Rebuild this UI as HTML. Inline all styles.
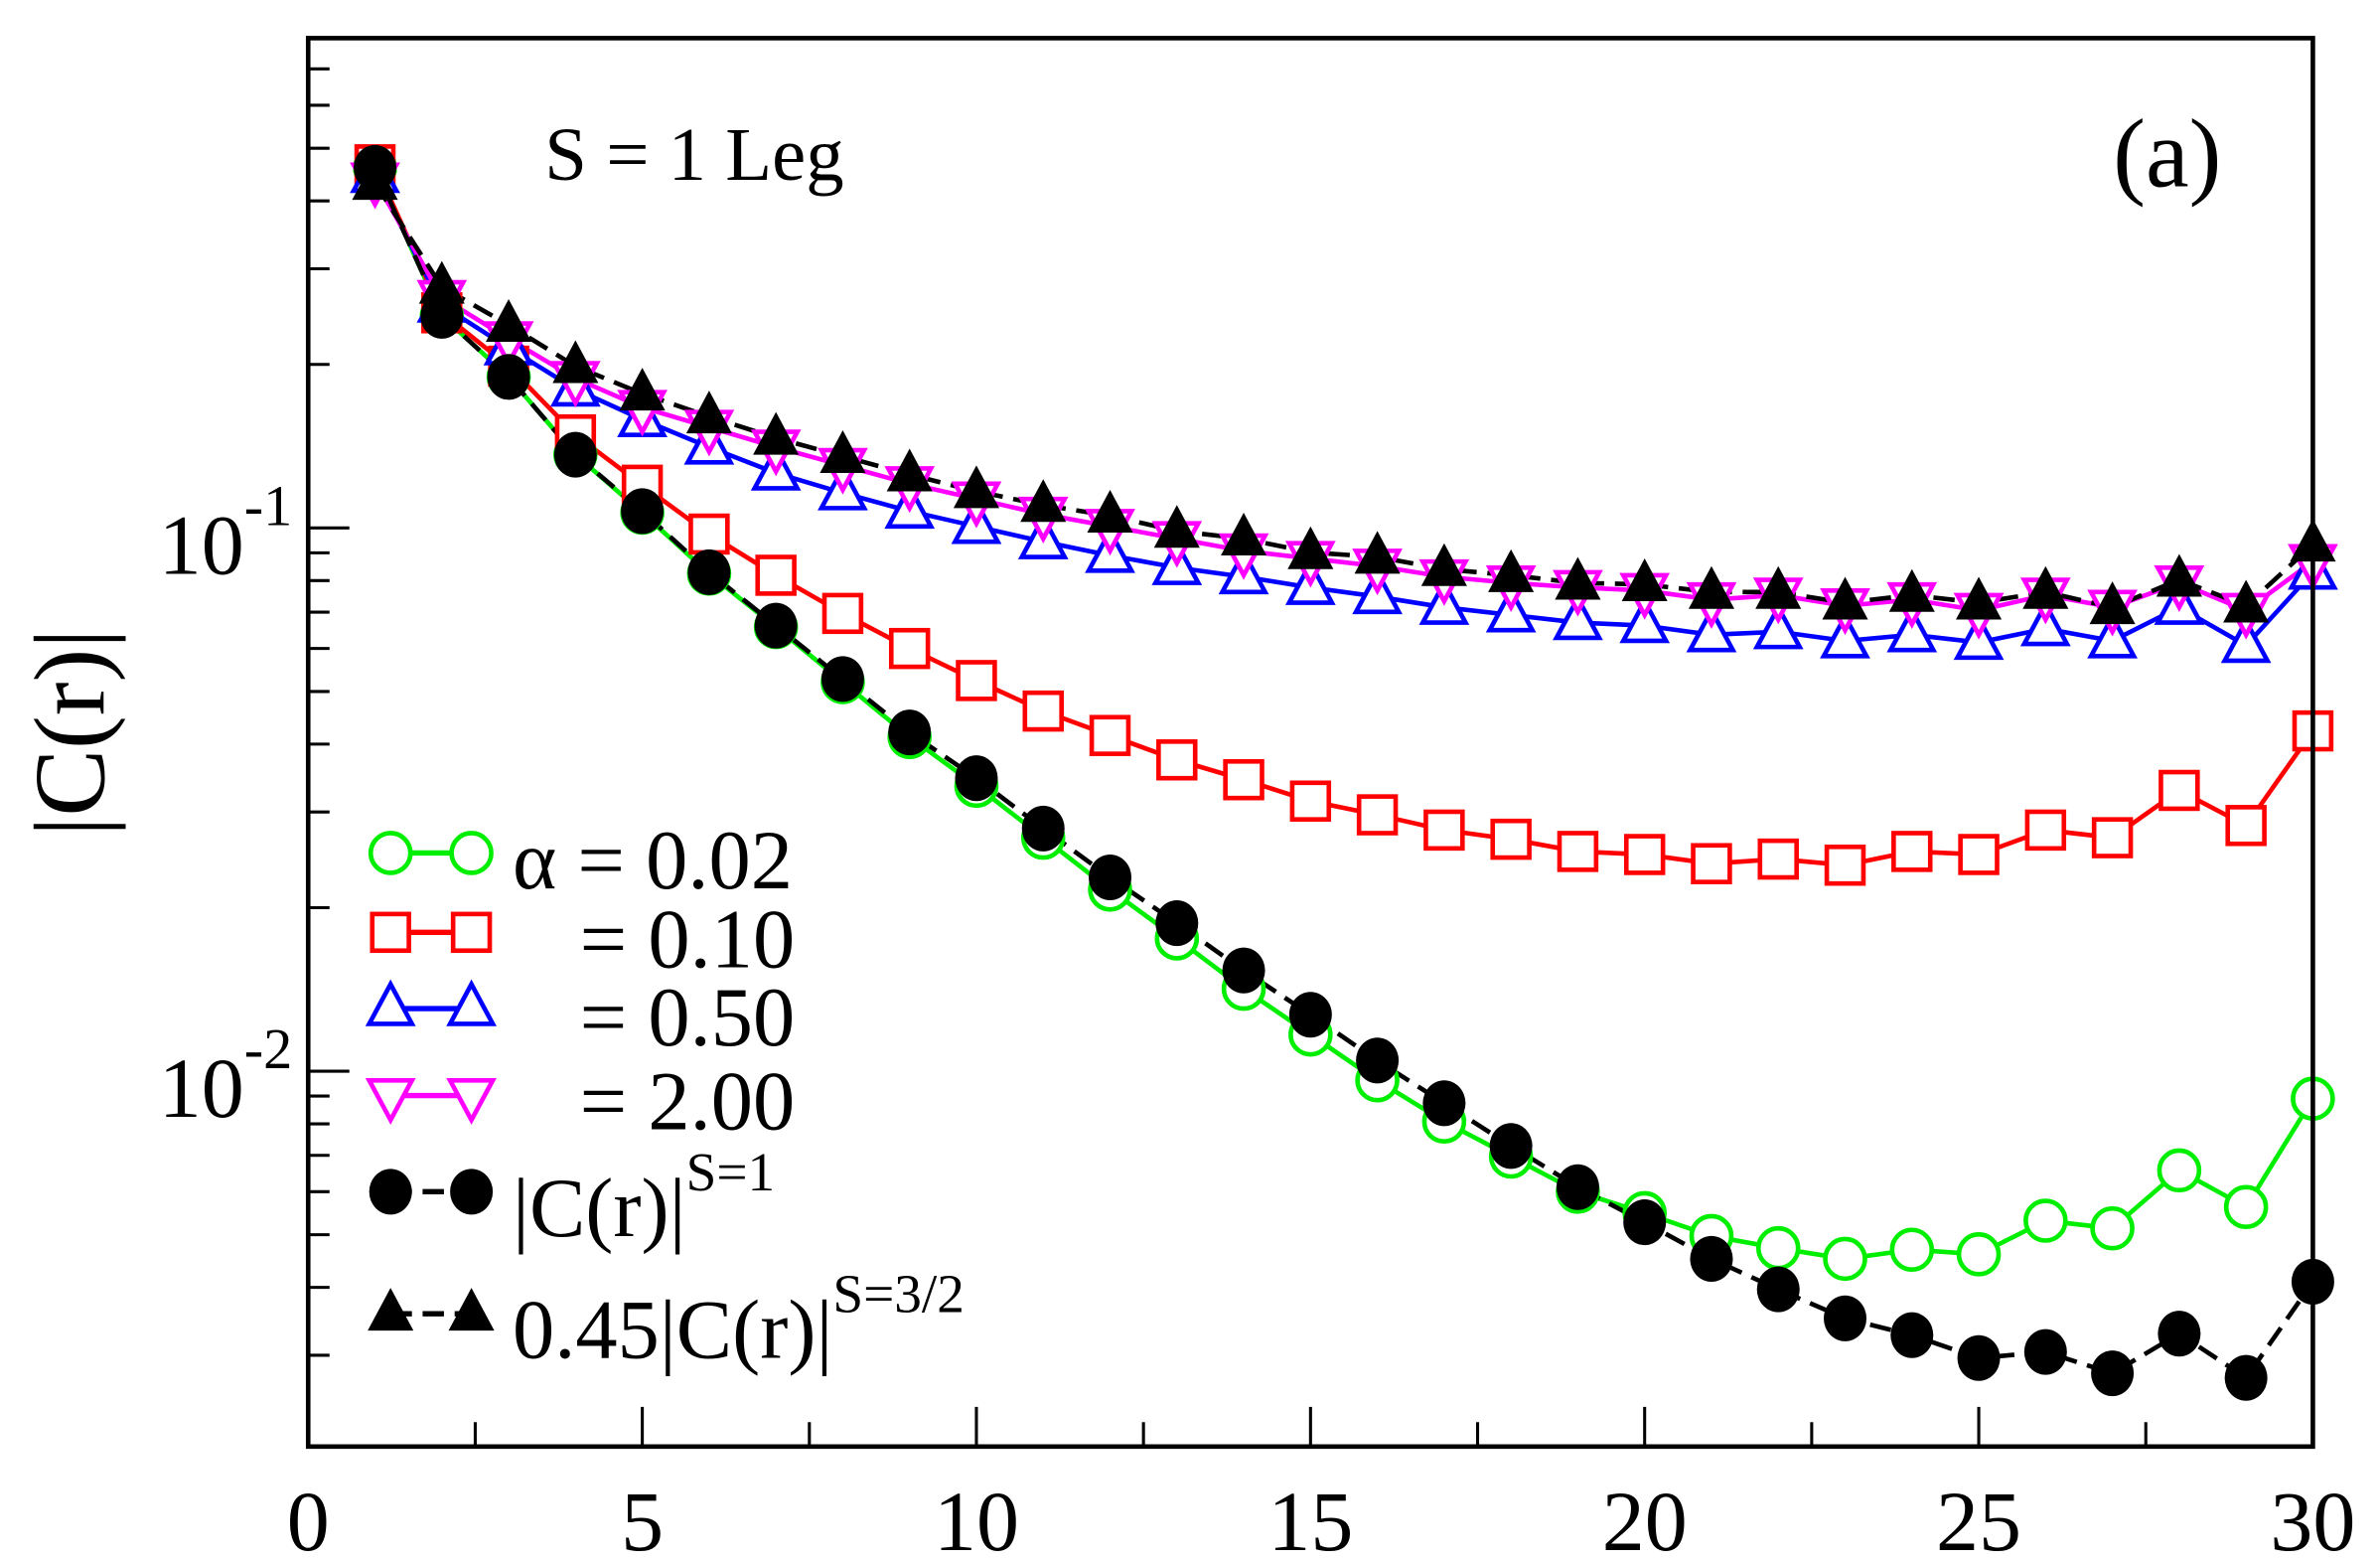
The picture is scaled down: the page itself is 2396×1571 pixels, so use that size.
<!DOCTYPE html>
<html><head><meta charset="utf-8"><style>
html,body{margin:0;padding:0;background:#fff;}
svg{display:block;}
text{font-family:"Liberation Serif",serif;fill:#000;}
</style></head><body>
<svg id="s" width="2396" height="1571" viewBox="0 0 1560 1023" preserveAspectRatio="none" xmlns="http://www.w3.org/2000/svg">
<rect x="0" y="0" width="1560" height="1023" fill="#fff"/>
<g id="ticks"></g>
<g id="data"></g>
<rect x="202" y="25" width="1314" height="923" fill="none" stroke="#000" stroke-width="3"/>
<g font-size="56" text-anchor="middle">
<text x="202" y="1016">0</text><text x="421" y="1016">5</text><text x="640" y="1016">10</text>
<text x="859" y="1016">15</text><text x="1078" y="1016">20</text><text x="1297" y="1016">25</text><text x="1516" y="1016">30</text>
</g>
<text x="104" y="376" font-size="56">10</text><text x="160" y="344" font-size="38">-1</text>
<text x="104" y="732" font-size="56">10</text><text x="160" y="700" font-size="38">-2</text>
<text transform="translate(68,480) rotate(-90)" font-size="66" text-anchor="middle">|C(r)|</text>
<text x="357" y="118" font-size="50">S = 1 Leg</text>
<text x="1385" y="122" font-size="64">(a)</text>
<g id="leg"></g>
<g font-size="55">
<text x="336" y="582">α = 0.02</text>
<text x="380" y="634">= 0.10</text>
<text x="380" y="685">= 0.50</text>
<text x="380" y="740">= 2.00</text>
<text x="336" y="810">|C(r)|<tspan dy="-30" font-size="36">S=1</tspan></text>
<text x="336" y="890">0.45|C(r)|<tspan dy="-30" font-size="36">S=3/2</tspan></text>
</g>
</svg>
<script>
var NS="http://www.w3.org/2000/svg";
function el(p,t,a){var e=document.createElementNS(NS,t);for(var k in a)e.setAttribute(k,a[k]);p.appendChild(e);return e;}
var T=document.getElementById('ticks');
function ly(v){return 346-(Math.log10(v)+1)*356;}
for(var d=-3;d<=0;d++){for(var m=1;m<10;m++){var v=m*Math.pow(10,d);var y=ly(v);if(y<25||y>948)continue;var L=(m==1)?27:14;el(T,'line',{x1:202,y1:y,x2:202+L,y2:y,stroke:'#000','stroke-width':2});}}
for(var i=1;i<12;i++){var x=202+43.8*2.5*i;var L=(i%2==0)?26:16;el(T,'line',{x1:x,y1:948,x2:x,y2:948-L,stroke:'#000','stroke-width':2});}
var S=[
{c:'#00ee00',m:'oc',d:0,y:[110,207,247,298,336,376,411,447,483,515,549,583,615,648,678,708,735,758,781,795,810,818,825,819,822,800,805,767,791,720]},
{c:'#ff0000',m:'sq',d:0,y:[108,205,240,285,318,350,377,402,425,446,466,482,498,511,525,534,544,550,558,560,566,563,567,558,560,544,549,518,541,479]},
{c:'#0000ff',m:'tu',d:0,y:[115,200,228,255,275,293,310,323,335,345,355,364,372,378,385,391,398,403,408,410,416,414,420,416,421,412,420,398,423,375]},
{c:'#ff00ff',m:'td',d:0,y:[118,195,222,248,267,280,293,305,317,327,337,345,353,361,366,371,378,382,385,387,393,390,397,393,400,390,398,382,400,368]},
{c:'#000',m:'fc',d:1,y:[110,207,247,298,335,375,410,445,480,510,543,575,605,636,665,695,723,751,778,801,825,845,864,875,890,886,900,874,903,840]},
{c:'#000',m:'ft',d:1,y:[120,188,213,240,258,273,287,299,311,322,331,338,348,353,362,365,373,377,382,383,388,388,395,390,395,388,398,380,397,357]}];
var D=document.getElementById('data'),G=document.getElementById('leg');
function mk(p,m,c,x,y){
 if(m=='oc')el(p,'circle',{cx:x,cy:y,r:13,fill:'#fff',stroke:c,'stroke-width':3});
 else if(m=='fc')el(p,'ellipse',{cx:x,cy:y,rx:14,ry:15,fill:'#000'});
 else if(m=='sq')el(p,'rect',{x:x-12,y:y-12,width:24,height:24,fill:'#fff',stroke:c,'stroke-width':3});
 else if(m=='tu')el(p,'polygon',{points:(x-14)+','+(y+10)+' '+(x+14)+','+(y+10)+' '+x+','+(y-16),fill:'#fff',stroke:c,'stroke-width':3});
 else if(m=='td')el(p,'polygon',{points:(x-14)+','+(y-10)+' '+(x+14)+','+(y-10)+' '+x+','+(y+16),fill:'#fff',stroke:c,'stroke-width':3});
 else if(m=='ft')el(p,'polygon',{points:(x-15)+','+(y+11)+' '+(x+15)+','+(y+11)+' '+x+','+(y-17),fill:'#000'});
}
var LY=[559,611,661,718,781,861];
S.forEach(function(s,k){
 var pts=s.y.map(function(y,i){return (202+43.8*(i+1))+','+y;}).join(' ');
 var a={points:pts,fill:'none',stroke:s.c,'stroke-width':3};
 if(s.d)a['stroke-dasharray']='14,7';
 el(D,'polyline',a);
 var ly2=LY[k];
 var b={x1:256,y1:ly2,x2:309,y2:ly2,stroke:s.c,'stroke-width':3.5};
 if(s.d)b['stroke-dasharray']='14,7';
 el(G,'line',b);mk(G,s.m,s.c,256,ly2);mk(G,s.m,s.c,309,ly2);
});
S.forEach(function(s){s.y.forEach(function(y,i){mk(D,s.m,s.c,202+43.8*(i+1),y);});});
</script>
</body></html>
